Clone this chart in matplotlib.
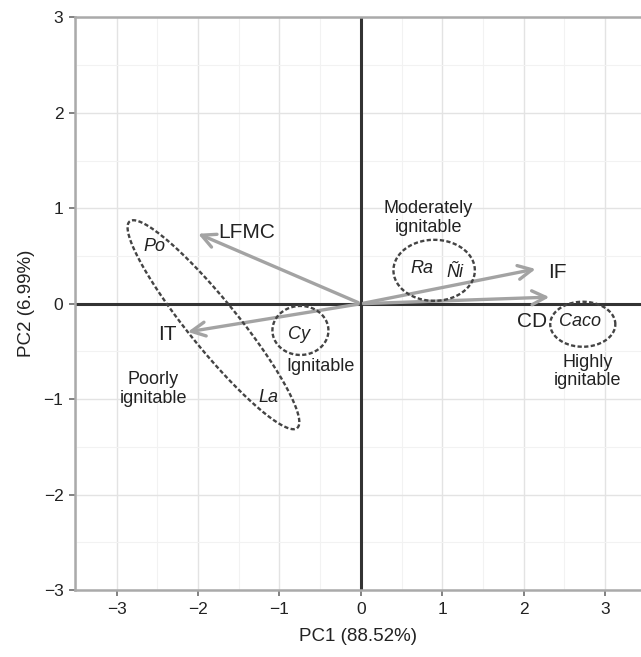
import numpy as np
import matplotlib
matplotlib.use('Agg')
import matplotlib.pyplot as plt

plt.rcParams['font.family'] = ['Liberation Sans', 'DejaVu Sans']

# Loading vectors (arrow tips) and their labels
var_names = ['LFMC', 'IT', 'IF', 'CD']
var_x = [-2.03, -2.16, 2.18, 2.35]
var_y = [0.745, -0.30, 0.37, 0.07]
var_label_x = [-1.40, -2.38, 2.41, 2.10]
var_label_y = [0.745, -0.32, 0.33, -0.19]

# Species positions (italic labels)
species = ['Po', 'La', 'Cy', 'Ra', 'Ñi', 'Caco']
species_x = [-2.53, -1.135, -0.76, 0.75, 1.15, 2.69]
species_y = [0.60, -0.98, -0.32, 0.37, 0.33, -0.19]

# Ignitability groups: ellipse centre, semi-axis vectors (data units)
group_names = ['Poorly\nignitable', 'Ignitable', 'Moderately\nignitable', 'Highly\nignitable']
group_label_x = [-2.55, -0.50, 0.83, 2.78]
group_label_y = [-0.89, -0.66, 0.895, -0.71]
ell_cx = [-1.81, -0.742, 0.90, 2.725]
ell_cy = [-0.22, -0.28, 0.35, -0.215]
ell_ax = [1.028, 0.344, 0.50, 0.40]
ell_ay = [-1.083, 0.0, 0.0, 0.0]
ell_bx = [0.235, 0.0, 0.0, 0.0]
ell_by = [0.162, 0.257, 0.32, 0.236]

fig = plt.figure(figsize=(6.41, 6.57), dpi=100)
ax = fig.add_axes([0.117, 0.102, 0.883, 0.8714])
ax.set_xlim(-3.51, 3.44)
ax.set_ylim(-3, 3)

# grid
ax.set_xticks(range(-3, 4))
ax.set_yticks(range(-3, 4))
ax.set_xticks(np.arange(-3.5, 3.5, 0.5), minor=True)
ax.set_yticks(np.arange(-3, 3.5, 0.5), minor=True)
ax.grid(True, which='major', color='#e3e3e3', lw=1.0)
ax.grid(True, which='minor', color='#f2f2f2', lw=0.8)
ax.set_axisbelow(True)
ax.set_xticklabels(['\u22123', '\u22122', '\u22121', '0', '1', '2', '3'])
ax.set_yticklabels(['\u22123', '\u22122', '\u22121', '0', '1', '2', '3'])
ax.tick_params(which='major', length=4.3, width=1.3, color='#777777', labelsize=12.5,
               pad=4, labelcolor='#222222')
ax.tick_params(which='minor', length=0)
for side in ['left', 'bottom', 'top']:
    ax.spines[side].set_color('#aaaaaa')
    ax.spines[side].set_linewidth(1.8)
ax.spines['right'].set_visible(False)

ax.axhline(0, color='#333333', lw=2.2, zorder=2)
ax.axvline(0, color='#333333', lw=2.2, zorder=2)

# arrows
for name, x, y, lx, ly in zip(var_names, var_x, var_y, var_label_x, var_label_y):
    ax.annotate('', xy=(x, y), xytext=(0, 0),
                arrowprops=dict(arrowstyle='->,head_length=1.0,head_width=0.5',
                                color='#a3a3a3', lw=2.4), zorder=3)
    ax.text(lx, ly, name, fontsize=15, ha='center', va='center', color='#222222', zorder=5)

# ellipses
t = np.linspace(0, 2 * np.pi, 300)
for cx, cy, axx, ayy, bx, by in zip(ell_cx, ell_cy, ell_ax, ell_ay, ell_bx, ell_by):
    ex = cx + axx * np.cos(t) + bx * np.sin(t)
    ey = cy + ayy * np.cos(t) + by * np.sin(t)
    ax.plot(ex, ey, color='#444444', lw=1.7, ls=(0, (1.8, 1.0)), zorder=4)

for name, x, y in zip(species, species_x, species_y):
    ax.text(x, y, name, fontsize=13, style='italic', ha='center', va='center',
            color='#222222', zorder=5)

for name, x, y in zip(group_names, group_label_x, group_label_y):
    ax.text(x, y, name, fontsize=13, ha='center', va='center', color='#222222',
            linespacing=1.15, zorder=5)

ax.set_xlabel('PC1 (88.52%)', fontsize=13.5, labelpad=8, color='#222222')
ax.set_ylabel('PC2 (6.99%)', fontsize=13.5, labelpad=6, color='#222222')

fig.savefig('out.png', dpi=100)
